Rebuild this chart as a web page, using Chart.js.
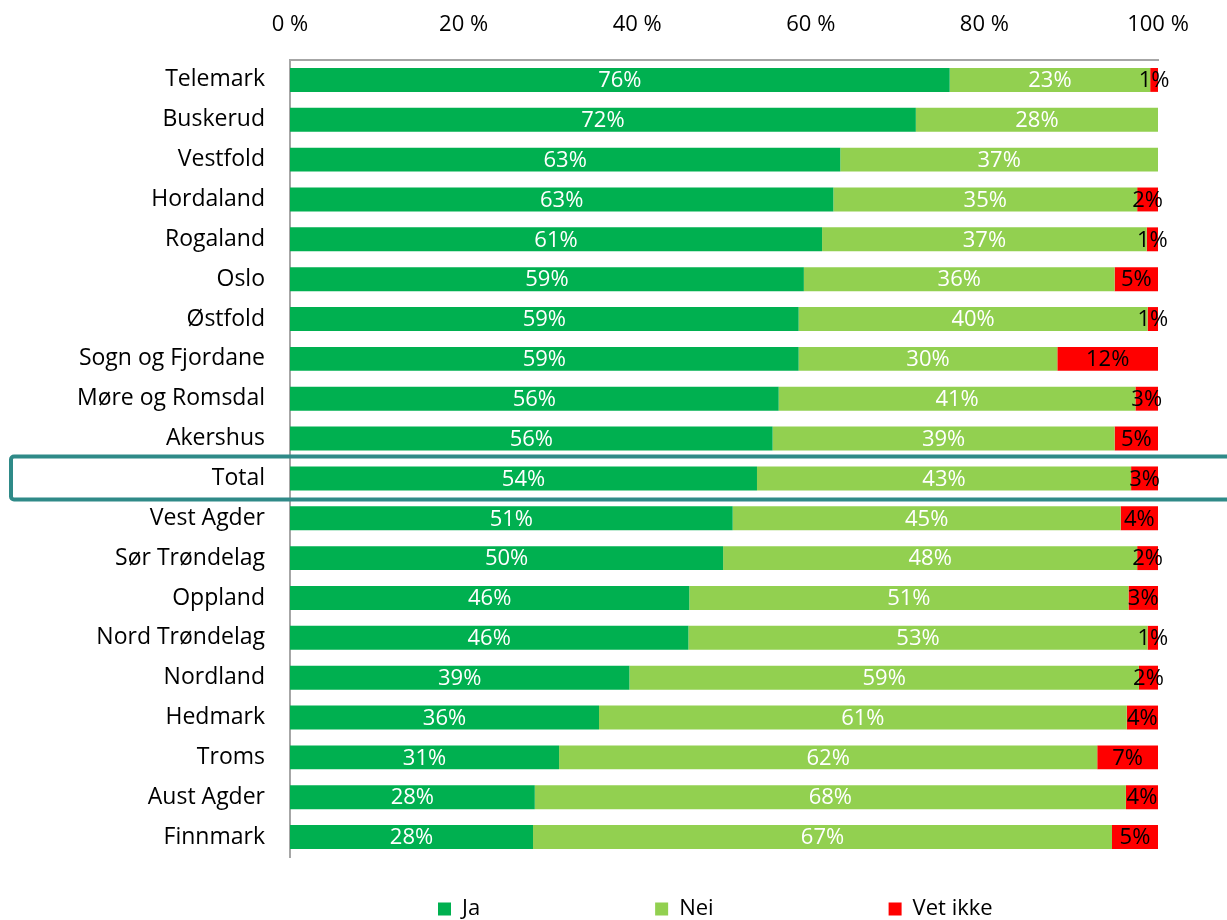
<!DOCTYPE html>
<html>
<head>
<meta charset="utf-8">
<style>
  html, body { margin: 0; padding: 0; background: #fff; }
  #wrap { width: 1227px; height: 920px; }
</style>
<script src="https://cdn.jsdelivr.net/npm/chart.js@4/dist/chart.umd.min.js"></script>
</head>
<body>
<div id="wrap"><canvas id="c" width="1227" height="920"></canvas></div>
<script>
const categories = ["Telemark","Buskerud","Vestfold","Hordaland","Rogaland","Oslo","Østfold","Sogn og Fjordane","Møre og Romsdal","Akershus","Total","Vest Agder","Sør Trøndelag","Oppland","Nord Trøndelag","Nordland","Hedmark","Troms","Aust Agder","Finnmark"];
const jaValues     = [76.0, 72.1, 63.4, 62.6, 61.3, 59.2, 58.6, 58.6, 56.3, 55.6, 53.8, 51.0, 49.9, 46.0, 45.9, 39.1, 35.6, 31.0, 28.2, 28.0];
const neiValues    = [23.1, 27.9, 36.6, 35.0, 37.4, 35.8, 40.2, 29.8, 41.1, 39.4, 43.1, 44.7, 47.7, 50.6, 52.9, 58.7, 60.8, 62.0, 68.1, 66.7];
const vetIkkeValues= [0.9, 0, 0, 2.4, 1.3, 5.0, 1.2, 11.6, 2.6, 5.0, 3.1, 4.3, 2.4, 3.4, 1.2, 2.2, 3.6, 7.0, 3.7, 5.3];
const seriesNames  = ["Ja", "Nei", "Vet ikke"];
const xTicks       = [0, 20, 40, 60, 80, 100];
const highlightCategory = "Total";

const FONT = "'Open Sans', 'Noto Sans', sans-serif";

const valueLabels = {
  id: 'valueLabels',
  afterDatasetsDraw(chart) {
    const ctx = chart.ctx;
    ctx.save();
    ctx.font = "22px " + FONT;
    ctx.textAlign = 'center';
    ctx.textBaseline = 'middle';
    chart.data.datasets.forEach((ds, di) => {
      const meta = chart.getDatasetMeta(di);
      meta.data.forEach((el, i) => {
        const v = ds.data[i];
        if (!v) return;
        const p = el.getProps(['x', 'y', 'base'], true);
        ctx.fillStyle = di === 2 ? '#000000' : '#FFFFFF';
        ctx.fillText(Math.round(v) + '%', (p.x + p.base) / 2, p.y + 1);
      });
    });
    ctx.restore();
  }
};

const highlightBox = {
  id: 'highlightBox',
  afterDraw(chart) {
    const ys = chart.scales.y;
    const idx = categories.indexOf(highlightCategory);
    if (idx < 0) return;
    const yc = ys.getPixelForValue(idx);
    const ctx = chart.ctx;
    ctx.save();
    ctx.strokeStyle = '#2F8A88';
    ctx.lineWidth = 4;
    ctx.beginPath();
    ctx.roundRect(11, yc - 22, 1240, 43, 3);
    ctx.stroke();
    ctx.restore();
  }
};

const legendPlace = {
  id: 'legendPlace',
  afterLayout(chart) {
    const lg = chart.legend;
    if (!lg || !lg.lineWidths) return;
    const pad = lg.options.labels.padding;
    const start = (lg.left + pad + lg.right - lg.lineWidths[0]) / 2;
    const dx = 438 - start;
    lg.left += dx; lg.right += dx;
    lg.top = 898 - pad;
  }
};

new Chart(document.getElementById('c'), {
  type: 'bar',
  data: {
    labels: categories,
    datasets: [
      { label: seriesNames[0], data: jaValues, backgroundColor: '#00B050' },
      { label: seriesNames[1], data: neiValues, backgroundColor: '#92D050' },
      { label: seriesNames[2], data: vetIkkeValues, backgroundColor: '#FF0000' }
    ]
  },
  options: {
    indexAxis: 'y',
    responsive: false,
    animation: false,
    devicePixelRatio: 1,
    layout: { padding: { top: 0, right: 69, bottom: 0, left: 0 } },
    datasets: { bar: { barPercentage: 0.6, categoryPercentage: 1.0 } },
    scales: {
      x: {
        position: 'top',
        stacked: true,
        min: 0, max: 100,
        afterBuildTicks(axis) { axis.ticks = xTicks.map(v => ({ value: v })); },
        afterFit(axis) { axis.height = 60; },
        ticks: {
          callback: v => v + ' %',
          font: { family: FONT, size: 22 },
          color: '#000000',
          padding: 22,
          maxRotation: 0
        },
        grid: { display: false, drawTicks: false },
        border: { display: true, color: '#A6A6A6', width: 2 }
      },
      y: {
        stacked: true,
        afterFit(axis) { axis.width = 290; },
        ticks: {
          font: { family: FONT, size: 23 },
          color: '#000000',
          padding: 25,
          autoSkip: false
        },
        grid: { display: false, drawTicks: false },
        border: { display: true, color: '#A6A6A6', width: 2 }
      }
    },
    plugins: {
      legend: {
        position: 'bottom',
        maxHeight: 63,
        labels: {
          boxWidth: 13, boxHeight: 13,
          padding: 175,
          font: { family: FONT, size: 22 },
          color: '#000000'
        }
      },
      tooltip: { enabled: false }
    }
  },
  plugins: [valueLabels, highlightBox, legendPlace]
});
</script>
</body>
</html>
